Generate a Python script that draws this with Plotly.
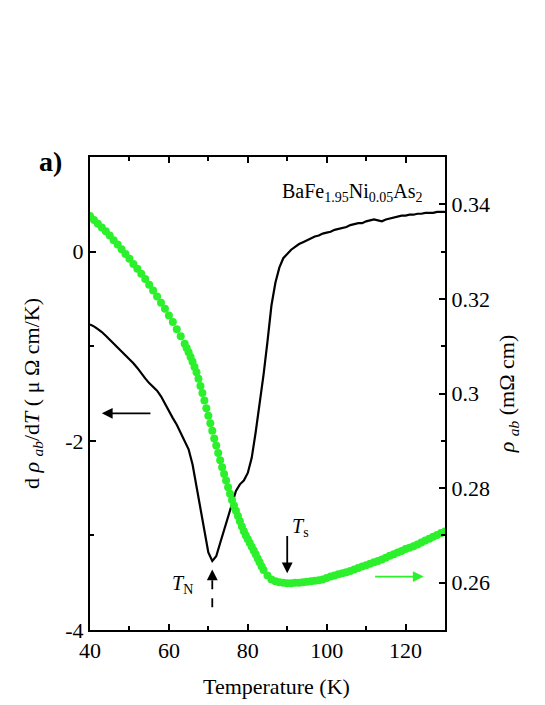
import plotly.graph_objects as go

# dρ/dT curve (left axis)
temp_d = list(range(40, 131))
drho = [-0.77, -0.79, -0.82, -0.85, -0.89, -0.93, -0.98, -1.02, -1.06, -1.10,
        -1.14, -1.18, -1.23, -1.29, -1.34, -1.39, -1.43, -1.47, -1.53, -1.61,
        -1.68, -1.76, -1.83, -1.92, -2.00, -2.09, -2.25, -2.48, -2.72, -2.96,
        -3.18, -3.27, -3.22, -3.08, -2.94, -2.79, -2.65, -2.53, -2.46, -2.42,
        -2.34, -2.18, -1.91, -1.63, -1.30, -0.95, -0.57, -0.33, -0.17, -0.07,
        -0.02, 0.02, 0.05, 0.08, 0.10, 0.12, 0.14, 0.16, 0.17, 0.19,
        0.20, 0.21, 0.23, 0.24, 0.25, 0.26, 0.28, 0.29, 0.30, 0.30,
        0.32, 0.33, 0.34, 0.33, 0.32, 0.34, 0.35, 0.36, 0.37, 0.38,
        0.38, 0.39, 0.39, 0.40, 0.40, 0.41, 0.41, 0.41, 0.42, 0.42, 0.42]

# resistivity (right axis)
temp_r = [40, 41, 42, 43, 44, 45, 46, 47, 48, 49, 50, 51, 52, 53, 54, 55, 56, 57, 58, 59,
          60, 61, 62, 63, 64, 64.5, 65, 65.5, 66, 66.5, 67, 67.5, 68, 68.5, 69, 69.5,
          70, 70.5, 71, 71.5, 72, 72.5, 73, 73.5, 74, 74.5, 75, 75.5, 76, 76.5, 77, 77.5,
          78, 78.5, 79, 79.5, 80, 80.5, 81, 81.5, 82, 82.5, 83, 83.5, 84, 85, 86, 87, 88, 89,
          90, 91, 92, 93, 94, 95, 96, 97, 98, 99, 100, 101, 102, 103, 104, 105, 106, 107,
          108, 109, 110, 111, 112, 113, 114, 115, 116, 117, 118, 119, 120, 121, 122, 123,
          124, 125, 126, 127, 128, 129, 130]
rho = [0.3375, 0.3367, 0.3359, 0.3351, 0.3343, 0.3334, 0.3324, 0.3315, 0.3305, 0.3295,
       0.3285, 0.3274, 0.3264, 0.3253, 0.3242, 0.3230, 0.3218, 0.3205, 0.3192, 0.3179,
       0.3165, 0.3151, 0.3136, 0.3121, 0.3105, 0.3096, 0.3087, 0.3077, 0.3067, 0.3056,
       0.3045, 0.3031, 0.3016, 0.3001, 0.2985, 0.2969, 0.2953, 0.2937, 0.2921, 0.2905,
       0.2890, 0.2874, 0.2859, 0.2844, 0.2830, 0.2816, 0.2802, 0.2788, 0.2775, 0.2763,
       0.2752, 0.2741, 0.2730, 0.2719, 0.2709, 0.2700, 0.2692, 0.2684, 0.2676, 0.2668,
       0.2660, 0.2651, 0.2643, 0.2635, 0.2627, 0.2615, 0.2607, 0.2603, 0.2601, 0.2600,
       0.2599, 0.2599, 0.2600, 0.2600, 0.2601, 0.2602, 0.2603, 0.2604, 0.2605, 0.2607,
       0.2610, 0.2613, 0.2615, 0.2618, 0.2620, 0.2622, 0.2625, 0.2628, 0.2631, 0.2634,
       0.2637, 0.2640, 0.2643, 0.2646, 0.2649, 0.2653, 0.2657, 0.2660, 0.2664, 0.2667,
       0.2671, 0.2674, 0.2677, 0.2681, 0.2685, 0.2689, 0.2693, 0.2697, 0.2701, 0.2705,
       0.2708]

x_ticks = [40, 60, 80, 100, 120]
y1_ticks = [-4, -2, 0]
y1_labels = ["-4", "-2", "0"]
y2_ticks = [0.26, 0.28, 0.30, 0.32, 0.34]
y2_labels = ["0.26", "0.28", "0.3", "0.32", "0.34"]

TN = 71
TS = 90

font = "'Liberation Serif', 'DejaVu Serif', serif"
green = "rgb(45,240,45)"
fsize = 22

fig = go.Figure()
fig.add_trace(go.Scatter(x=temp_d, y=drho, mode="lines",
                         line=dict(color="black", width=2.2), yaxis="y"))
fig.add_trace(go.Scatter(x=temp_r, y=rho, mode="markers",
                         marker=dict(color=green, size=8), yaxis="y2"))

axis_common = dict(showline=True, linecolor="black", linewidth=2, ticks="inside",
                   ticklen=6, tickwidth=1.5, tickcolor="black", showgrid=False,
                   zeroline=False, tickfont=dict(family=font, size=fsize, color="black"))

fig.update_layout(
    width=545, height=705,
    margin=dict(l=82, r=108, t=149, b=83),
    plot_bgcolor="white", paper_bgcolor="white",
    showlegend=False,
    font=dict(family=font, color="black", size=fsize),
    xaxis=dict(range=[40, 130], tickvals=x_ticks, mirror="ticks",
               minor=dict(dtick=10, ticks="inside", ticklen=4, tickcolor="black"),
               **axis_common),
    yaxis=dict(range=[-4, 1], tickvals=y1_ticks, ticktext=y1_labels,
               minor=dict(dtick=1, ticks="inside", ticklen=4, tickcolor="black"),
               title=dict(text="d <i>ρ</i> <sub><i>ab</i></sub>/d<i>T</i> ( μ Ω cm/K)",
                          font=dict(family=font, size=fsize), standoff=20),
               **axis_common),
    yaxis2=dict(range=[0.25, 0.35], tickvals=y2_ticks, ticktext=y2_labels,
                overlaying="y", side="right",
                minor=dict(dtick=0.01, ticks="inside", ticklen=4, tickcolor="black"),
                title=dict(text="<i>ρ</i> <sub><i>ab</i></sub> (mΩ cm)",
                           font=dict(family=font, size=fsize), standoff=10),
                **axis_common),
)

# x axis title, sits slightly right of centre in the original
fig.add_annotation(x=0.524, y=-0.12, xref="paper", yref="paper", showarrow=False,
                   xanchor="center", yanchor="middle",
                   text="Temperature (K)", font=dict(family=font, size=fsize))

# left arrow (dρ/dT -> left axis)
fig.add_annotation(x=43, y=-1.71, ax=55.7, ay=-1.71, xref="x", yref="y", axref="x", ayref="y",
                   text="", showarrow=True, arrowhead=2, arrowsize=1.2, arrowwidth=1.8,
                   arrowcolor="black")
# right arrow (ρ -> right axis)
fig.add_annotation(x=124.6, y=0.2613, ax=111.9, ay=0.2613, xref="x", yref="y2", axref="x", ayref="y2",
                   text="", showarrow=True, arrowhead=2, arrowsize=1.2, arrowwidth=1.8,
                   arrowcolor=green)
# T_s arrow
fig.add_annotation(x=TS, y=-3.40, ax=TS, ay=-2.99, xref="x", yref="y", axref="x", ayref="y",
                   text="", showarrow=True, arrowhead=2, arrowsize=1.2, arrowwidth=1.8,
                   arrowcolor="black")
fig.add_annotation(x=TS + 3.3, y=-2.92, xref="x", yref="y", showarrow=False,
                   text="<i>T</i><sub>s</sub>", font=dict(family=font, size=20))
# T_N dashed arrow
fig.add_shape(type="line", x0=TN, x1=TN, y0=-3.76, y1=-3.46, xref="x", yref="y",
              line=dict(color="black", width=1.8, dash="dash"))
fig.add_annotation(x=TN, y=-3.36, ax=TN, ay=-3.47, xref="x", yref="y", axref="x", ayref="y",
                   text="", showarrow=True, arrowhead=2, arrowsize=1.2, arrowwidth=1.8,
                   arrowcolor="black")
fig.add_annotation(x=TN - 7.6, y=-3.52, xref="x", yref="y", showarrow=False,
                   text="<i>T</i><sub>N</sub>", font=dict(family=font, size=20))

fig.add_annotation(x=106.5, y=0.62, xref="x", yref="y", showarrow=False,
                   text="BaFe<sub>1.95</sub>Ni<sub>0.05</sub>As<sub>2</sub>",
                   font=dict(family=font, size=20))
fig.add_annotation(x=-0.11, y=0.991, xref="paper", yref="paper", showarrow=False,
                   xanchor="center", yanchor="middle",
                   text="<b>a)</b>", font=dict(family=font, size=28))

fig.write_html("out.html")
